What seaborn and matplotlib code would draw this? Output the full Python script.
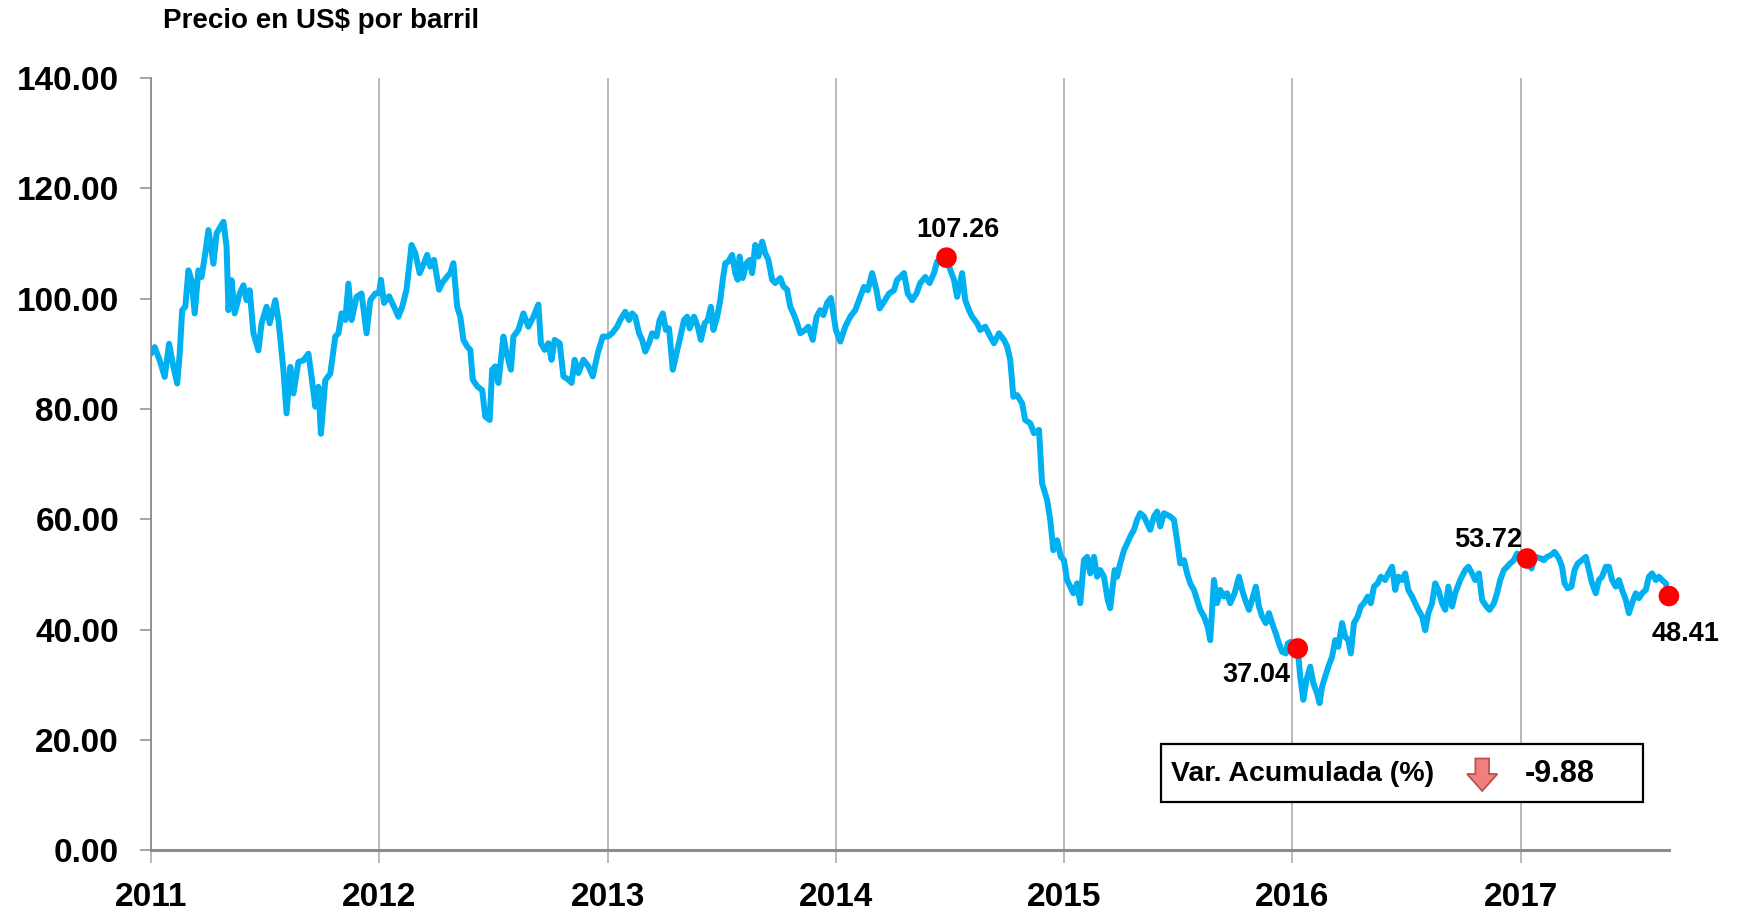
import pandas as pd
import numpy as np
import matplotlib
matplotlib.use('Agg')
import matplotlib.pyplot as plt
import matplotlib.dates as mdates
from matplotlib.patches import Rectangle, FancyArrow
import seaborn as sns

# WTI price (US$ per barrel)
# day of year -> price, one pair of lists per year
days_2011 = [0, 6, 14, 22, 29, 36, 42, 46, 50, 55, 60, 65, 70, 76, 81, 86, 92, 100, 105, 116,
             121, 124, 129, 134, 142, 148, 153, 158, 164, 172, 177, 185, 190, 199, 204, 212, 217, 223, 228, 236,
             244, 252, 257, 263, 268, 272, 279, 287, 295, 300, 305, 311, 316, 321, 329, 337, 345, 351, 359]
wti_2011 = [90.0, 91.2, 88.8, 85.8, 91.8, 87.6, 84.6, 90.0, 97.9, 98.5, 105.1, 103.3, 97.3, 105.1, 103.9,
            107.5, 112.4, 106.3, 111.8, 113.9, 109.4, 97.9, 103.3, 97.3, 100.9, 102.4, 99.7, 101.5, 93.7, 90.6,
            95.5, 98.5, 95.5, 99.7, 96.1, 87.0, 79.2, 87.6, 82.8, 88.5, 88.8, 90.0, 85.8, 80.4, 84.0,
            75.5, 85.2, 86.4, 93.1, 93.7, 97.3, 96.1, 102.7, 96.1, 100.3, 100.9, 93.7, 99.7, 100.9]

days_2012 = [0, 3, 8, 16, 24, 31, 37, 44, 52, 58, 65, 72, 77, 82, 88, 96, 101, 109, 114, 119,
             125, 130, 135, 141, 146, 150, 157, 165, 170, 177, 181, 186, 191, 199, 204, 211, 215, 223, 231, 239,
             247, 255, 259, 265, 271, 276, 281, 289, 295, 303, 308, 313, 319, 327, 335, 342, 350, 358]
wti_2012 = [101.0, 103.4, 99.2, 100.4, 98.5, 96.7, 98.5, 101.6, 109.7, 108.2, 104.6, 106.4, 107.9, 105.8, 107.0,
            101.6, 102.8, 104.0, 104.6, 106.4, 98.5, 96.7, 92.5, 91.3, 90.7, 85.3, 84.1, 83.4, 78.6, 78.0,
            87.1, 87.7, 84.7, 93.1, 90.1, 87.1, 93.1, 94.3, 97.3, 94.9, 96.7, 98.9, 91.9, 90.7, 91.9,
            88.9, 92.5, 91.9, 85.9, 85.3, 84.7, 88.9, 86.5, 88.9, 87.7, 85.9, 90.1, 93.1]

days_2013 = [0, 7, 15, 20, 28, 34, 39, 44, 50, 55, 60, 66, 71, 78, 83, 88, 93, 98, 104, 110,
             115, 122, 127, 131, 138, 144, 149, 155, 160, 165, 169, 175, 180, 184, 188, 193, 199, 204, 208, 211,
             216, 222, 227, 231, 236, 241, 247, 252, 257, 263, 268, 276, 281, 287, 292, 297, 303, 308, 316, 321,
             328, 334, 340, 345, 351, 357]
wti_2013 = [93.1, 93.7, 94.9, 96.1, 97.6, 96.1, 97.3, 96.7, 93.7, 92.5, 90.4, 91.9, 93.7, 93.1, 96.1,
            97.3, 94.3, 94.6, 87.1, 90.1, 92.5, 96.1, 96.7, 94.6, 96.7, 94.9, 92.5, 95.5, 96.1, 98.5,
            94.3, 96.7, 99.7, 103.4, 106.4, 106.7, 107.9, 104.6, 103.4, 107.6, 103.7, 106.4, 107.0, 104.6, 109.7,
            107.6, 110.3, 108.2, 107.0, 103.4, 102.8, 103.7, 102.2, 101.6, 98.5, 97.3, 95.5, 93.7, 94.3, 94.9,
            92.5, 96.7, 97.9, 97.0, 99.2, 100.1]

days_2014 = [0, 7, 15, 23, 31, 37, 45, 51, 58, 65, 70, 77, 85, 93, 98, 103, 109, 115, 122, 129,
             135, 143, 150, 157, 162, 177, 183, 189, 194, 202, 207, 213, 218, 226, 231, 239, 247, 253, 261, 269,
             274, 279, 284, 290, 298, 303, 311, 317, 325, 330, 338, 343, 348, 354, 360]
wti_2014 = [94.3, 92.2, 94.9, 96.7, 97.9, 99.7, 102.1, 101.5, 104.6, 101.5, 98.2, 99.4, 100.9, 101.5, 103.4,
            103.9, 104.6, 100.9, 99.7, 100.9, 102.8, 103.9, 102.8, 104.6, 106.7, 107.4, 105.2, 103.4, 100.3, 104.6,
            99.7, 97.9, 96.7, 95.5, 94.3, 94.9, 93.1, 91.9, 93.7, 92.5, 91.3, 88.9, 82.2, 82.5, 81.0,
            78.0, 77.4, 75.6, 76.2, 66.5, 63.5, 59.9, 54.4, 56.2, 53.2]

days_2015 = [0, 5, 10, 15, 21, 26, 32, 37, 42, 48, 53, 58, 64, 70, 74, 81, 85, 90, 96, 101,
             106, 112, 117, 122, 128, 133, 138, 144, 149, 154, 160, 165, 170, 176, 181, 186, 192, 197, 202, 208,
             213, 218, 224, 230, 234, 240, 245, 250, 256, 261, 266, 273, 280, 285, 290, 296, 301, 307, 312, 317,
             323, 328, 333, 339, 344, 349, 355, 358, 363]
wti_2015 = [52.6, 49.0, 47.8, 46.6, 48.4, 44.8, 52.6, 53.2, 50.2, 53.2, 49.6, 50.8, 49.6, 45.4, 43.9,
            50.8, 49.6, 52.0, 54.4, 55.6, 56.9, 58.1, 59.9, 61.1, 60.5, 59.3, 58.1, 60.5, 61.4, 58.7,
            61.1, 60.8, 60.5, 59.9, 56.2, 52.0, 52.6, 50.2, 48.4, 47.2, 45.4, 43.6, 42.4, 40.5, 38.1,
            49.0, 44.8, 47.2, 46.0, 46.6, 44.8, 46.6, 49.6, 47.2, 45.4, 43.6, 45.4, 47.8, 44.2, 42.4,
            41.2, 43.0, 41.2, 39.3, 37.5, 36.0, 35.7, 37.5, 37.8]

days_2016 = [0, 9, 13, 18, 23, 29, 34, 40, 44, 48, 53, 58, 64, 69, 74, 80, 85, 90, 94, 99,
             105, 110, 115, 121, 126, 131, 137, 142, 149, 154, 160, 165, 170, 176, 181, 186, 192, 197, 202, 208,
             213, 218, 224, 229, 234, 240, 245, 250, 256, 261, 269, 277, 282, 288, 293, 299, 304, 311, 316, 323,
             328, 333, 339, 344, 349, 355, 360]
wti_2016 = [36.3, 36.6, 31.5, 27.3, 30.9, 33.3, 30.3, 28.5, 26.7, 29.7, 31.5, 33.3, 35.1, 38.1, 36.9,
            41.2, 38.7, 38.1, 35.7, 41.2, 42.4, 44.2, 44.8, 46.0, 44.8, 47.8, 48.4, 49.6, 49.0, 50.2,
            51.4, 47.2, 49.6, 49.0, 50.2, 47.2, 46.0, 44.8, 43.6, 42.4, 39.9, 43.0, 44.8, 48.4, 47.2,
            44.8, 43.6, 47.8, 44.2, 46.6, 49.0, 50.8, 51.4, 50.2, 49.0, 50.2, 45.4, 44.2, 43.6, 44.8,
            46.6, 49.0, 50.8, 51.4, 52.0, 52.6, 53.8]

days_2017 = [5, 10, 17, 23, 32, 37, 42, 48, 54, 61, 66, 70, 75, 81, 86, 91, 98, 104, 109, 114,
             120, 125, 130, 136, 141, 146, 152, 157, 162, 168, 173, 178, 184, 189, 194, 200, 205, 210, 216, 221,
             226, 232, 237]
wti_2017 = [53.2, 52.9, 51.1, 53.2, 52.9, 52.6, 53.2, 53.5, 54.1, 52.9, 51.4, 48.4, 47.5, 47.8, 50.8,
            52.0, 52.6, 53.2, 50.8, 48.4, 46.6, 49.0, 49.6, 51.4, 51.4, 49.0, 47.8, 49.0, 47.2, 45.4,
            43.0, 44.8, 46.6, 45.7, 46.6, 47.2, 49.6, 50.2, 49.0, 49.6, 49.0, 48.4, 46.1]

# highlighted points
marker_dates = ['2014-06-27', '2016-01-10', '2017-01-11', '2017-08-26']
marker_values = [107.4, 36.6, 52.9, 46.1]
marker_labels = ['107.26', '37.04', '53.72', '48.41']

var_acumulada = '-9.88'

## Build the dataframe
series = [(2011, days_2011, wti_2011), (2012, days_2012, wti_2012), (2013, days_2013, wti_2013),
          (2014, days_2014, wti_2014), (2015, days_2015, wti_2015), (2016, days_2016, wti_2016),
          (2017, days_2017, wti_2017)]
frames = []
for year, days, vals in series:
    fechas = pd.Timestamp(f'{year}-01-01') + pd.to_timedelta(days, unit='D')
    frames.append(pd.DataFrame({'fecha': fechas, 'precio': vals}))
df = pd.concat(frames, ignore_index=True)

markers = pd.DataFrame({'fecha': pd.to_datetime(marker_dates), 'precio': marker_values})

## Plot
sns.set_style('white')
plt.rcParams['font.family'] = ['Liberation Sans', 'DejaVu Sans']
plt.rcParams['text.color'] = 'black'
plt.rcParams['xtick.labelcolor'] = 'black'
plt.rcParams['ytick.labelcolor'] = 'black'

fig = plt.figure(figsize=(17.41, 9.10), dpi=100)
ax = fig.add_axes([0.0867, 0.0654, 0.8719, 0.8492])

sns.lineplot(data=df, x='fecha', y='precio', color='#00B0F0', linewidth=4.3, ax=ax, zorder=3)
sns.scatterplot(data=markers, x='fecha', y='precio', color='#FF0000', s=220, edgecolor='none',
                ax=ax, zorder=4, clip_on=False)

offsets = [(8, 20), (-30, -19), (-28, 13), (12, -27)]
for (_, row), lab, off in zip(markers.iterrows(), marker_labels, offsets):
    ax.annotate(lab, (row['fecha'], row['precio']), xytext=off, textcoords='offset points',
                ha='center', va='center', fontsize=19.5, fontweight='bold', color='black', zorder=5)

ax.set_xlim(pd.Timestamp('2011-01-01'), pd.Timestamp('2017-08-26'))
ax.set_ylim(0, 140)
ax.set_yticks(np.arange(0, 141, 20))
ax.yaxis.set_major_formatter(matplotlib.ticker.FormatStrFormatter('%.2f'))
ax.xaxis.set_major_locator(mdates.YearLocator())
ax.xaxis.set_major_formatter(mdates.DateFormatter('%Y'))

ax.set_xlabel('')
ax.set_ylabel('')
ax.grid(axis='x', color='#A6A6A6', linewidth=1.1)
ax.grid(axis='y', visible=False)
ax.set_axisbelow(True)

for s in ['top', 'right']:
    ax.spines[s].set_visible(False)
ax.spines['left'].set_color('#8C8C8C')
ax.spines['left'].set_linewidth(1.3)
ax.spines['bottom'].set_color('#8C8C8C')
ax.spines['bottom'].set_linewidth(2.2)

ax.tick_params(axis='y', direction='out', length=8, width=1.1, color='#8C8C8C', pad=15,
               labelsize=24, left=True, labelcolor='black')
ax.tick_params(axis='x', direction='out', length=9, width=1.1, color='#A6A6A6', pad=14,
               labelsize=24, bottom=True, labelcolor='black')
for lab in ax.get_xticklabels() + ax.get_yticklabels():
    lab.set_fontweight('bold')

fig.text(0.0936, 0.977, 'Precio en US$ por barril', fontsize=20, fontweight='bold',
         ha='left', va='center', color='black')

# Var. acumulada box
ax.add_patch(Rectangle((0.6653, 0.0628), 0.3176, 0.075, transform=ax.transAxes,
                       facecolor='white', edgecolor='black', linewidth=1.6, zorder=6))
ax.text(0.672, 0.0985, 'Var. Acumulada (%)', transform=ax.transAxes, fontsize=20.5,
        fontweight='bold', ha='left', va='center', zorder=7)
ax.add_patch(FancyArrow(0.877, 0.119, 0, -0.042, width=0.009, head_width=0.02, head_length=0.022,
                        length_includes_head=True, transform=ax.transAxes,
                        facecolor='#F08080', edgecolor='#C0504D', linewidth=1.3, zorder=7))
ax.text(0.928, 0.0985, var_acumulada, transform=ax.transAxes, fontsize=22,
        fontweight='bold', ha='center', va='center', zorder=7)

plt.savefig('out.png', dpi=100)
